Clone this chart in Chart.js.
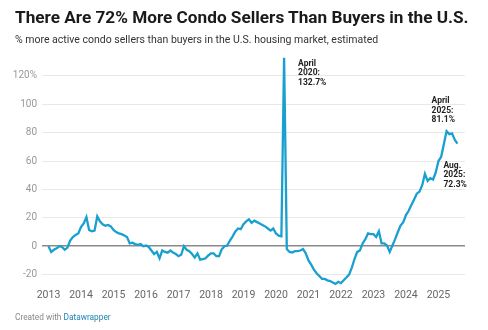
<!DOCTYPE html>
<html>
<head>
<meta charset="utf-8">
<script src="https://cdn.jsdelivr.net/npm/chart.js@4/dist/chart.umd.min.js"></script>
<style>
  html, body { margin: 0; padding: 0; background: #fff; }
  body { width: 488px; height: 330px; position: relative; overflow: hidden; font-family: Roboto, 'Noto Sans', sans-serif; }
  .title { position: absolute; left: 15px; top: 7px; font-size: 17.2px; font-weight: 700; color: #1a1a1a; white-space: nowrap; }
  .subtitle { position: absolute; left: 15px; top: 33px; font-size: 10.5px; color: #333; white-space: nowrap; }
  .footer { position: absolute; left: 15px; top: 312px; font-size: 8.3px; color: #888; white-space: nowrap; }
  .footer span { color: #1f84b5; }
  .wrap { position: absolute; left: 0; top: 0; width: 488px; height: 330px; }
</style>
</head>
<body>
<div class="wrap"><canvas id="chart" width="488" height="330"></canvas></div>
<div class="title">There Are 72% More Condo Sellers Than Buyers in the U.S.</div>
<div class="subtitle">% more active condo sellers than buyers in the U.S. housing market, estimated</div>
<div class="footer">Created with <span>Datawrapper</span></div>
<script>
// monthly values, Jan 2013 .. Aug 2025
const values2013 = [0, -4, -2.5, -1.5, 0, -0.5, -2.5, -1, 4, 6.5, 8, 9];
const values2014 = [13.5, 16, 20.5, 11.5, 10.5, 11, 21, 17.5, 15.5, 14.5, 15, 14];
const values2015 = [11.5, 10, 9, 8.5, 7.5, 6.5, 2, 2.5, 1.5, 1, 1.5, 0];
const values2016 = [0.5, -0.5, -3, -5.5, -4, -8.5, -3, -4, -4.5, -3, -4.5, -5.5];
const values2017 = [-7, -6, 0, -2.5, -3.5, -5.5, -8, -5, -9.5, -9, -8.5, -6.5];
const values2018 = [-5, -5, -7, -7, -2, 0, 0.5, 4, 7, 10.5, 12.5, 12];
const values2019 = [15.5, 17.5, 19, 16.5, 18, 17, 16, 15, 14, 12.5, 11, 12.5];
const values2020 = [9, 7.5, 7, 132.7, -2, -4, -4.5, -3.5, -3.5, -3, -2, -5];
const values2021 = [-10, -13, -16.5, -19, -21, -23, -23, -24, -24.5, -25.5, -26.5, -25];
const values2022 = [-26, -24, -22, -20, -15, -9, -4, -3, 2, 5, 9, 8.5];
const values2023 = [8.5, 6.5, 10.5, 2, 2, 0.5, -4, 0.5, 5, 10, 14.5, 17];
const values2024 = [22, 25, 29, 33, 37, 38.5, 43, 51, 46, 48, 47, 52];
const values2025 = [60, 63, 72, 81.1, 79, 79.5, 75, 72.3];

const yearLabels = ['2013', '2014', '2015', '2016', '2017', '2018', '2019', '2020', '2021', '2022', '2023', '2024', '2025'];
const yTicks = [-20, 0, 20, 40, 60, 80, 100, 120];

const notes = [
  { month: 87, lines: ['April', '2020:', '132.7%'], dx: 14, dy: 6 },
  { month: 147, lines: ['April', '2025:', '81.1%'], dx: -15, dy: -30 },
  { month: 151, lines: ['Aug.', '2025:', '72.3%'], dx: -14, dy: 22 }
];

const series = [].concat(values2013, values2014, values2015, values2016, values2017, values2018,
  values2019, values2020, values2021, values2022, values2023, values2024, values2025);
const points = series.map((v, i) => ({ x: i, y: v }));

const notePlugin = {
  id: 'notes',
  afterDatasetsDraw(chart) {
    const { ctx, scales } = chart;
    ctx.save();
    ctx.font = 'bold 8.5px Roboto, sans-serif';
    ctx.fillStyle = '#222';
    ctx.textAlign = 'left';
    ctx.textBaseline = 'middle';
    notes.forEach((n) => {
      const px = scales.x.getPixelForValue(n.month);
      const py = scales.y.getPixelForValue(series[n.month]);
      n.lines.forEach((line, i) => {
        ctx.fillText(line, px + n.dx, py + n.dy + i * 9.5);
      });
    });
    ctx.restore();
  }
};

new Chart(document.getElementById('chart'), {
  type: 'line',
  data: {
    datasets: [{
      data: points,
      borderColor: '#19a0cf',
      borderWidth: 2.3,
      pointRadius: 0,
      tension: 0,
      fill: false
    }]
  },
  options: {
    responsive: false,
    animation: false,
    layout: { padding: { left: 0, right: 23, top: 56, bottom: 24 } },
    plugins: { legend: { display: false }, tooltip: { enabled: false } },
    scales: {
      x: {
        type: 'linear',
        min: -2.4,
        max: 153.8,
        grid: { display: false, drawTicks: false },
        border: { display: false },
        afterFit: (scale) => { scale.height = 20; },
        afterBuildTicks: (scale) => { scale.ticks = yearLabels.map((_, i) => ({ value: i * 12 })); },
        ticks: {
          padding: 3,
          maxRotation: 0,
          autoSkip: false,
          color: '#666',
          font: { family: 'Roboto', size: 10.5 },
          callback: (v) => yearLabels[v / 12]
        }
      },
      y: {
        min: -28,
        max: 134,
        grid: {
          drawTicks: false,
          color: (c) => (c.tick && c.tick.value === 0 ? '#8a8a8a' : '#e8e8e8'),
          lineWidth: (c) => (c.tick && c.tick.value === 0 ? 1.6 : 1)
        },
        border: { display: false },
        afterFit: (scale) => { scale.width = 42; },
        afterBuildTicks: (scale) => { scale.ticks = yTicks.map((v) => ({ value: v })); },
        ticks: {
          padding: 5,
          color: '#999',
          font: { family: 'Roboto', size: 10 },
          callback: (v) => (v === 120 ? v + '%' : String(v))
        }
      }
    }
  },
  plugins: [notePlugin]
});
</script>
</body>
</html>
